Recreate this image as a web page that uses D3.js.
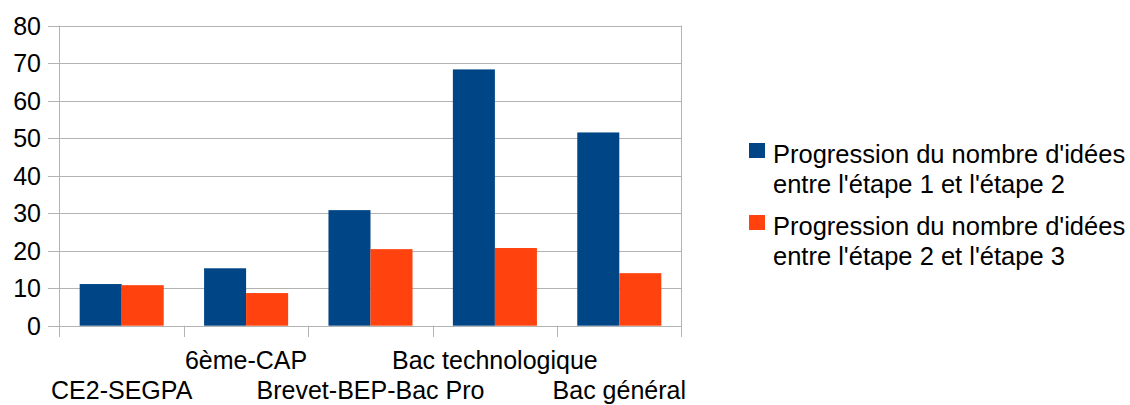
<!DOCTYPE html>
<html><head><meta charset="utf-8">
<script src="https://cdn.jsdelivr.net/npm/d3@7"></script>
<style>body{margin:0;background:#fff}svg{display:block}text{font-family:"Liberation Sans",Arial,sans-serif;fill:#000}</style>
</head><body><svg id="c" width="1130" height="405"></svg>
<script>
const categories = ["CE2-SEGPA","6ème-CAP","Brevet-BEP-Bac Pro","Bac technologique","Bac général"];
const series1 = [11.1, 15.3, 30.8, 68.3, 51.5];
const series2 = [10.8, 8.7, 20.4, 20.7, 14.0];
const legendLines = [["Progression du nombre d'idées","entre l'étape 1 et l'étape 2"],
                     ["Progression du nombre d'idées","entre l'étape 2 et l'étape 3"]];
const yTicks = [0,10,20,30,40,50,60,70,80];
const colors = ["#004586","#ff420e"];

const svg = d3.select("#c");
const L = 59.5, R = 681.5, T = 25.5, B = 325.7;
const x = d3.scaleBand().domain(categories).range([L, R]).paddingInner(0).paddingOuter(0);
const y = d3.scaleLinear().domain([0, 80]).range([B, T]);
const inner = d3.scaleBand().domain([0,1]).range([0, x.bandwidth()]).paddingOuter(0.48).paddingInner(0);

// gridlines
svg.append("g").selectAll("line").data(yTicks).join("line")
  .attr("x1", 48).attr("x2", R).attr("y1", d => Math.round(y(d))+0.5).attr("y2", d => Math.round(y(d))+0.5)
  .attr("stroke", "#b3b3b3").attr("stroke-width", 1);
// y labels
svg.append("g").selectAll("text").data(yTicks).join("text")
  .attr("x", 41).attr("y", d => y(d)).attr("dy", "0.36em").attr("text-anchor", "end")
  .style("font-size", "25px").text(d => d);
// left axis line and right border
svg.append("line").attr("x1", L).attr("x2", L).attr("y1", T).attr("y2", 337).attr("stroke", "#b3b3b3");
svg.append("line").attr("x1", R).attr("x2", R).attr("y1", T).attr("y2", 337).attr("stroke", "#b3b3b3");
// x ticks at band boundaries
const bounds = categories.map(c => x(c)).slice(1);
svg.append("g").selectAll("line").data(bounds).join("line")
  .attr("x1", d => Math.round(d)+0.5).attr("x2", d => Math.round(d)+0.5).attr("y1", B).attr("y2", 337)
  .attr("stroke", "#b3b3b3");

// bars
const data = categories.map((c, i) => ({c, v: [series1[i], series2[i]]}));
const groups = svg.append("g").selectAll("g").data(data).join("g")
  .attr("transform", d => `translate(${x(d.c)},0)`);
groups.selectAll("rect").data(d => d.v.map((v, k) => ({v, k}))).join("rect")
  .attr("x", d => inner(d.k)).attr("width", inner.bandwidth())
  .attr("y", d => y(d.v)).attr("height", d => B - y(d.v))
  .attr("fill", d => colors[d.k]);

// x labels (staggered)
svg.append("g").selectAll("text").data(categories).join("text")
  .attr("x", d => x(d) + x.bandwidth()/2)
  .attr("y", (d, i) => i % 2 === 0 ? 399 : 369)
  .attr("text-anchor", "middle").style("font-size", "25px").text(d => d);

// legend
const leg = svg.append("g");
legendLines.forEach((lines, k) => {
  const top = 143 + k*72;
  leg.append("rect").attr("x", 749).attr("y", top).attr("width", 16).attr("height", 15).attr("fill", colors[k]);
  lines.forEach((ln, j) => {
    leg.append("text").attr("x", 773).attr("y", top + 20 + j*30).style("font-size", "25.5px").text(ln);
  });
});
</script></body></html>
